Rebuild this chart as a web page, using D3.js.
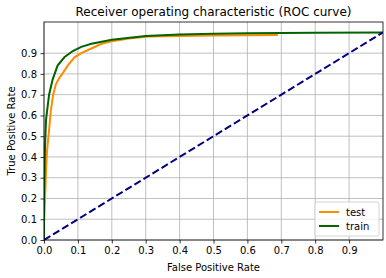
<!DOCTYPE html>
<html>
<head>
<meta charset="utf-8">
<script src="https://cdn.jsdelivr.net/npm/d3@7"></script>
<style>
  body { margin: 0; background: #fff; }
  text { font-family: "DejaVu Sans", sans-serif; fill: #000; }
</style>
</head>
<body>
<svg id="drawing_region" width="386" height="278"></svg>
<script>
// ROC points
const testFpr = [0, 0, 0.002, 0.006, 0.009, 0.015, 0.02, 0.027, 0.035, 0.045, 0.054, 0.07, 0.09, 0.11, 0.13, 0.17, 0.2, 0.25, 0.31, 0.4, 0.5, 0.69];
const testTpr = [0, 0.08, 0.15, 0.34, 0.43, 0.53, 0.62, 0.70, 0.75, 0.78, 0.80, 0.84, 0.88, 0.90, 0.915, 0.945, 0.957, 0.97, 0.98, 0.983, 0.985, 0.987];
const trainFpr = [0, 0, 0.003, 0.006, 0.015, 0.025, 0.04, 0.06, 0.085, 0.11, 0.14, 0.2, 0.3, 0.4, 0.5, 0.6, 0.8, 1];
const trainTpr = [0, 0.2, 0.45, 0.58, 0.70, 0.77, 0.84, 0.88, 0.91, 0.93, 0.945, 0.965, 0.983, 0.99, 0.993, 0.996, 0.998, 1];
const chanceX = [0, 1];
const chanceY = [0, 1];
const xTicks = [0, 0.1, 0.2, 0.3, 0.4, 0.5, 0.6, 0.7, 0.8, 0.9];
const yTicks = [0, 0.1, 0.2, 0.3, 0.4, 0.5, 0.6, 0.7, 0.8, 0.9];
const seriesNames = ['test', 'train'];
const seriesColors = ['darkorange', 'darkgreen'];

const svg = d3.select('#drawing_region');
const margin = {top: 22, right: 3, bottom: 38, left: 44};
const width = 386 - margin.left - margin.right;
const height = 278 - margin.top - margin.bottom;

const g = svg.append('g').attr('transform', `translate(${margin.left},${margin.top})`);

const x = d3.scaleLinear().domain([0, 1]).range([0, width]);
const y = d3.scaleLinear().domain([0, 1.05]).range([height, 0]);

// grid
g.append('g').selectAll('line').data(xTicks).join('line')
    .attr('x1', d => x(d)).attr('x2', d => x(d))
    .attr('y1', 0).attr('y2', height)
    .attr('stroke', '#b0b0b0').attr('stroke-width', 0.8);
g.append('g').selectAll('line').data(yTicks).join('line')
    .attr('x1', 0).attr('x2', width)
    .attr('y1', d => y(d)).attr('y2', d => y(d))
    .attr('stroke', '#b0b0b0').attr('stroke-width', 0.8);

// axes
const xAxis = g.append('g').attr('transform', `translate(0,${height})`)
    .call(d3.axisBottom(x).tickValues(xTicks).tickFormat(d3.format('.1f')).tickSize(3.5).tickPadding(3.5));
const yAxis = g.append('g')
    .call(d3.axisLeft(y).tickValues(yTicks).tickFormat(d3.format('.1f')).tickSize(3.5).tickPadding(3.5));
[xAxis, yAxis].forEach(a => {
    a.select('.domain').remove();
    a.selectAll('text').attr('font-size', 10).attr('font-family', 'DejaVu Sans').attr('fill', '#000');
    a.selectAll('line').attr('stroke', '#000').attr('stroke-width', 0.8);
});

const line = d3.line().x(d => x(d[0])).y(d => y(d[1]));
g.append('clipPath').attr('id', 'clip').append('rect')
    .attr('width', width).attr('height', height);
const plot = g.append('g').attr('clip-path', 'url(#clip)');

plot.append('path')
    .datum(d3.zip(testFpr, testTpr))
    .attr('d', line)
    .attr('fill', 'none').attr('stroke', seriesColors[0]).attr('stroke-width', 2);
plot.append('path')
    .datum(d3.zip(trainFpr, trainTpr))
    .attr('d', line)
    .attr('fill', 'none').attr('stroke', seriesColors[1]).attr('stroke-width', 2);
plot.append('path')
    .datum(d3.zip(chanceX, chanceY))
    .attr('d', line)
    .attr('fill', 'none').attr('stroke', 'navy').attr('stroke-width', 2)
    .attr('stroke-dasharray', '7.4,3.2');

// frame
g.append('rect').attr('width', width).attr('height', height)
    .attr('fill', 'none').attr('stroke', '#000').attr('stroke-width', 0.8);

// labels
svg.append('text').attr('x', margin.left + width / 2).attr('y', 16)
    .attr('text-anchor', 'middle').attr('font-size', 12).text('Receiver operating characteristic (ROC curve)');
svg.append('text').attr('x', margin.left + width / 2).attr('y', 271)
    .attr('text-anchor', 'middle').attr('font-size', 10).text('False Positive Rate');
svg.append('text').attr('transform', `translate(15,${margin.top + height / 2}) rotate(-90)`)
    .attr('text-anchor', 'middle').attr('font-size', 10).text('True Positive Rate');

// legend
const lg = g.append('g').attr('transform', `translate(${width - 68},${height - 38})`);
lg.append('rect').attr('width', 64).attr('height', 34).attr('rx', 2)
    .attr('fill', '#fff').attr('fill-opacity', 0.8).attr('stroke', '#ccc').attr('stroke-width', 0.8);
seriesNames.forEach((name, i) => {
    const yy = 10 + i * 14;
    lg.append('line').attr('x1', 4).attr('x2', 24).attr('y1', yy).attr('y2', yy)
        .attr('stroke', seriesColors[i]).attr('stroke-width', 2);
    lg.append('text').attr('x', 31).attr('y', yy + 3.5).attr('font-size', 10).text(name);
});
</script>
</body>
</html>
